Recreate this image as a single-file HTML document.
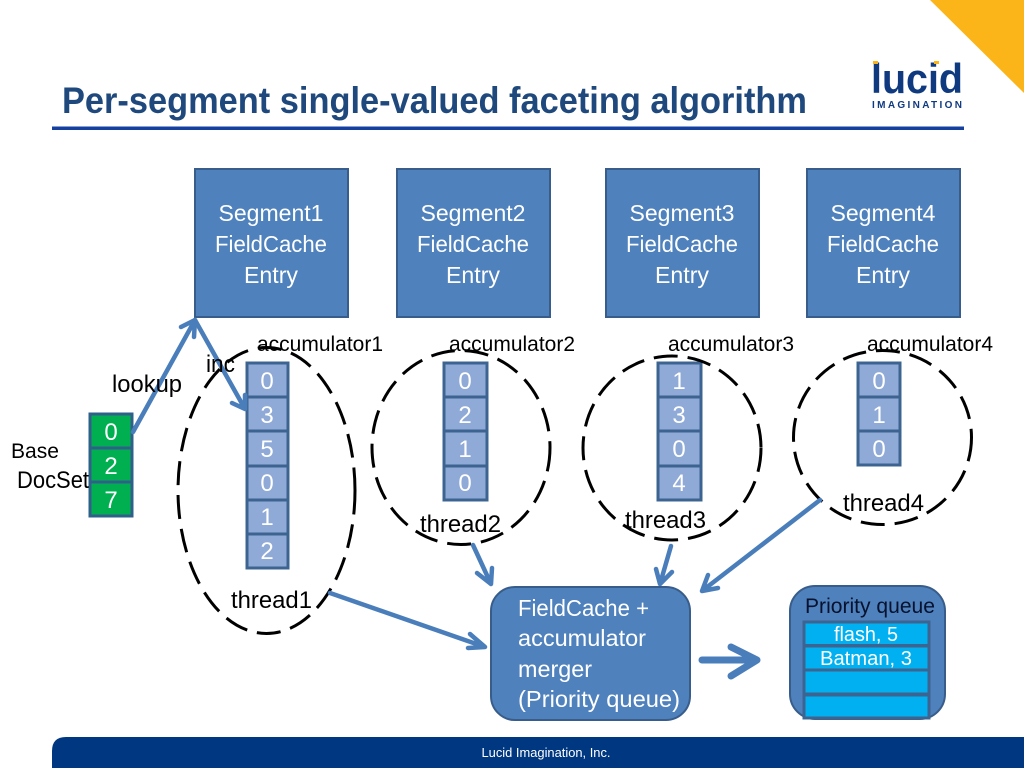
<!DOCTYPE html>
<html><head><meta charset="utf-8"><style>
html,body{margin:0;padding:0;background:#fff;width:1024px;height:768px;overflow:hidden}
svg{display:block}
text{font-family:"Liberation Sans",sans-serif}
.w{fill:#fff;font-size:23px;text-anchor:middle}
.n{fill:#fff;font-size:24px;text-anchor:middle}
.k{fill:#000;font-size:21px}
.t{fill:#000;font-size:24px}
.a{fill:none;stroke:#4a7ebb;stroke-width:4.500;stroke-linecap:round;stroke-linejoin:round}
.c{fill:#8faad6;stroke:#3d6491;stroke-width:3}
.g{fill:#00b050;stroke:#2f5f8a;stroke-width:3}
.s{fill:#4f81bd;stroke:#385d8a;stroke-width:2}
.e{fill:none;stroke:#000;stroke-width:3;stroke-dasharray:24 10}
.q{fill:#00b0f0;stroke:#3d6491;stroke-width:3}
</style></head><body>
<svg width="1024" height="768" viewBox="0 0 1024 768" xmlns="http://www.w3.org/2000/svg">
<polygon points="930,0 1024,0 1024,93" fill="#fbb518"/>
<text x="62" y="113" font-size="37" font-weight="bold" fill="#1f497d" textLength="745" lengthAdjust="spacingAndGlyphs">Per-segment single-valued faceting algorithm</text>
<rect x="52" y="126.500" width="912" height="3.500" fill="#1540a0"/>
<text x="871" y="93" font-size="42" font-weight="bold" fill="#0f3a80" textLength="92" lengthAdjust="spacingAndGlyphs">lucid</text>
<rect x="873" y="61" width="5" height="3" fill="#fbb518"/>
<rect x="934" y="61" width="5" height="3" fill="#fbb518"/>
<text x="872" y="108" font-size="10" font-weight="bold" fill="#0f3a80" textLength="90">IMAGINATION</text>
<path d="M1024 737H66Q52 737 52 751V768H1024Z" fill="#003781"/>
<text x="546" y="757" font-size="13" fill="#fff" text-anchor="middle" textLength="129" lengthAdjust="spacingAndGlyphs">Lucid Imagination, Inc.</text>

<rect class="s" x="195" y="169" width="153" height="148"/>
<rect class="s" x="397" y="169" width="153" height="148"/>
<rect class="s" x="606" y="169" width="153" height="148"/>
<rect class="s" x="807" y="169" width="153" height="148"/>
<g>
<text class="w" x="271" y="221" textLength="105" lengthAdjust="spacingAndGlyphs">Segment1</text><text class="w" x="271" y="252" textLength="112" lengthAdjust="spacingAndGlyphs">FieldCache</text><text class="w" x="271" y="283" textLength="54" lengthAdjust="spacingAndGlyphs">Entry</text>
<text class="w" x="473" y="221" textLength="105" lengthAdjust="spacingAndGlyphs">Segment2</text><text class="w" x="473" y="252" textLength="112" lengthAdjust="spacingAndGlyphs">FieldCache</text><text class="w" x="473" y="283" textLength="54" lengthAdjust="spacingAndGlyphs">Entry</text>
<text class="w" x="682" y="221" textLength="105" lengthAdjust="spacingAndGlyphs">Segment3</text><text class="w" x="682" y="252" textLength="112" lengthAdjust="spacingAndGlyphs">FieldCache</text><text class="w" x="682" y="283" textLength="54" lengthAdjust="spacingAndGlyphs">Entry</text>
<text class="w" x="883" y="221" textLength="105" lengthAdjust="spacingAndGlyphs">Segment4</text><text class="w" x="883" y="252" textLength="112" lengthAdjust="spacingAndGlyphs">FieldCache</text><text class="w" x="883" y="283" textLength="54" lengthAdjust="spacingAndGlyphs">Entry</text>
</g>

<!-- green -->
<rect class="g" x="90" y="414" width="42" height="34"/><rect class="g" x="90" y="448" width="42" height="34"/><rect class="g" x="90" y="482" width="42" height="34"/>
<text class="n" x="111" y="440">0</text><text class="n" x="111" y="474">2</text><text class="n" x="111" y="508">7</text>

<!-- col1 -->
<rect class="c" x="247" y="363" width="41" height="34"/><rect class="c" x="247" y="397" width="41" height="34"/><rect class="c" x="247" y="431" width="41" height="35"/><rect class="c" x="247" y="466" width="41" height="34"/><rect class="c" x="247" y="500" width="41" height="34"/><rect class="c" x="247" y="534" width="41" height="34"/>
<text class="n" x="267" y="389">0</text><text class="n" x="267" y="423">3</text><text class="n" x="267" y="457">5</text><text class="n" x="267" y="491">0</text><text class="n" x="267" y="525">1</text><text class="n" x="267" y="559">2</text>
<!-- col2 -->
<rect class="c" x="444" y="363" width="43" height="34"/><rect class="c" x="444" y="397" width="43" height="34"/><rect class="c" x="444" y="431" width="43" height="35"/><rect class="c" x="444" y="466" width="43" height="34"/>
<text class="n" x="465" y="389">0</text><text class="n" x="465" y="423">2</text><text class="n" x="465" y="457">1</text><text class="n" x="465" y="491">0</text>
<!-- col3 -->
<rect class="c" x="658" y="363" width="43" height="34"/><rect class="c" x="658" y="397" width="43" height="34"/><rect class="c" x="658" y="431" width="43" height="35"/><rect class="c" x="658" y="466" width="43" height="34"/>
<text class="n" x="679" y="389">1</text><text class="n" x="679" y="423">3</text><text class="n" x="679" y="457">0</text><text class="n" x="679" y="491">4</text>
<!-- col4 -->
<rect class="c" x="858" y="363" width="42" height="34"/><rect class="c" x="858" y="397" width="42" height="34"/><rect class="c" x="858" y="431" width="42" height="34"/>
<text class="n" x="879" y="389">0</text><text class="n" x="879" y="423">1</text><text class="n" x="879" y="457">0</text>

<ellipse class="e" cx="266.500" cy="490.500" rx="88.500" ry="143"/>
<ellipse class="e" cx="461" cy="447.500" rx="89" ry="97"/>
<ellipse class="e" cx="672" cy="448" rx="89" ry="92"/>
<ellipse class="e" cx="882.500" cy="437.500" rx="89" ry="87"/>

<!-- arrows -->
<path class="a" d="M133 432L195 320M181 327L195 320L194 337"/>
<path class="a" d="M195 320L245 409M232 403L245 409L245 395"/>
<path class="a" d="M330 593L485 647M470 634L485 647L468 648"/>
<path class="a" d="M473 545L491 584M477 573L491 584L492 568"/>
<path class="a" d="M671 546L660 584M656 569L660 584L672 572"/>
<path class="a" d="M820 500L702 591M708 575L702 591L718 588"/>
<path class="a" style="stroke-width:7" d="M702 660H757M731 647L757 660L731 676"/>

<!-- labels -->
<g>
<text class="k" x="257" y="351" textLength="126" lengthAdjust="spacingAndGlyphs">accumulator1</text>
<text class="k" x="449" y="351" textLength="126" lengthAdjust="spacingAndGlyphs">accumulator2</text>
<text class="k" x="668" y="351" textLength="126" lengthAdjust="spacingAndGlyphs">accumulator3</text>
<text class="k" x="867" y="351" textLength="126" lengthAdjust="spacingAndGlyphs">accumulator4</text>
<text class="t" x="206" y="372" textLength="29" lengthAdjust="spacingAndGlyphs">inc</text>
<text class="t" x="112" y="392" textLength="70" lengthAdjust="spacingAndGlyphs">lookup</text>
<text class="k" x="11" y="458" textLength="48" lengthAdjust="spacingAndGlyphs">Base</text>
<text class="t" x="17" y="488" font-size="22" textLength="72" lengthAdjust="spacingAndGlyphs">DocSet</text>
<text class="t" x="231" y="608" textLength="81" lengthAdjust="spacingAndGlyphs">thread1</text>
<text class="t" x="420" y="532" textLength="81" lengthAdjust="spacingAndGlyphs">thread2</text>
<text class="t" x="625" y="528" textLength="81" lengthAdjust="spacingAndGlyphs">thread3</text>
<text class="t" x="843" y="511" textLength="81" lengthAdjust="spacingAndGlyphs">thread4</text>
</g>

<!-- merger -->
<rect x="491" y="587" width="199" height="133" rx="24" fill="#4f81bd" stroke="#385d8a" stroke-width="2"/>
<g fill="#fff">
<text x="518" y="616" font-size="23" textLength="131" lengthAdjust="spacingAndGlyphs">FieldCache +</text>
<text x="518" y="646" font-size="23" textLength="128" lengthAdjust="spacingAndGlyphs">accumulator</text>
<text x="518" y="677" font-size="23" textLength="74" lengthAdjust="spacingAndGlyphs">merger</text>
<text x="518" y="707" font-size="23" textLength="162" lengthAdjust="spacingAndGlyphs">(Priority queue)</text>
</g>

<!-- priority -->
<rect x="790" y="586" width="155" height="133" rx="25" fill="#4f81bd" stroke="#385d8a" stroke-width="2"/>
<rect class="q" x="804" y="622" width="125" height="23.500"/>
<rect class="q" x="804" y="646" width="125" height="24"/>
<rect class="q" x="804" y="670" width="125" height="24"/>
<path d="M804 718V695H929V718Z" fill="#00b0f0" stroke="#3d6491" stroke-width="3"/>
<text x="805" y="613" font-size="21" fill="#06122e" textLength="130" lengthAdjust="spacingAndGlyphs">Priority queue</text>
<text x="866" y="641" font-size="20" fill="#fff" text-anchor="middle" textLength="64" lengthAdjust="spacingAndGlyphs">flash, 5</text>
<text x="866" y="665" font-size="20" fill="#fff" text-anchor="middle" textLength="92" lengthAdjust="spacingAndGlyphs">Batman, 3</text>
</svg>
</body></html>
